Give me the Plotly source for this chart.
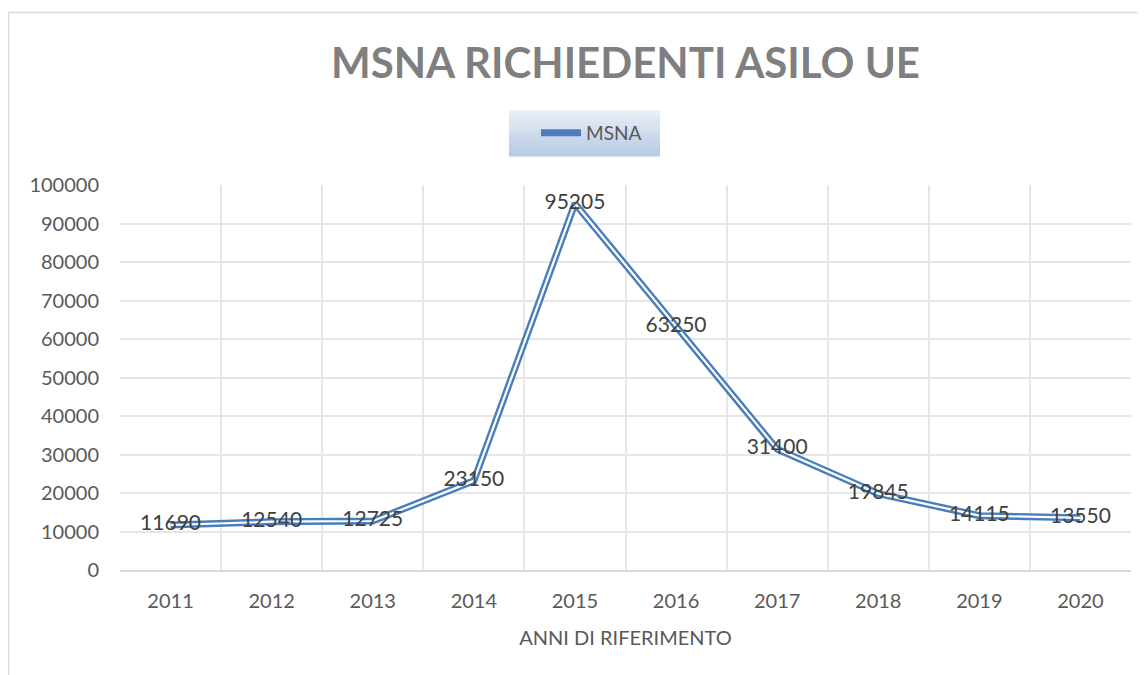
import plotly.graph_objects as go

years = ["2011", "2012", "2013", "2014", "2015", "2016", "2017", "2018", "2019", "2020"]
msna = [11690, 12540, 12725, 23150, 95205, 63250, 31400, 19845, 14115, 13550]
y_ticks = [0, 10000, 20000, 30000, 40000, 50000, 60000, 70000, 80000, 90000, 100000]

FONT = "Lato, Open Sans, sans-serif"
BLUE = "#4A7EBB"

L, R, T, B = 112, 23, 177, 113
W, H = 1146, 675
PW, PH = W - L - R, H - T - B


def px(xf):
    return (xf - L) / PW


def py(yf):
    return (H - B - yf) / PH


fig = go.Figure()
fig.add_trace(go.Scatter(
    x=years, y=msna, mode="lines", name="MSNA",
    line=dict(color=BLUE, width=7), showlegend=True, hoverinfo="skip",
))
fig.add_trace(go.Scatter(
    x=years, y=msna, mode="lines+text", name="MSNA",
    line=dict(color="white", width=2.2), showlegend=False,
    text=[str(v) for v in msna], textposition="middle center",
    textfont=dict(family=FONT, size=21, color="#404040"),
))

# legend background box with a soft vertical gradient
shapes = []
n = 12
top_c = (232, 238, 246)
bot_c = (184, 202, 228)
y_top, y_bot = 102, 148
for i in range(n):
    t = i / (n - 1)
    c = tuple(int(round(top_c[k] + (bot_c[k] - top_c[k]) * t)) for k in range(3))
    ya = y_top + (y_bot - y_top) * i / n
    yb = y_top + (y_bot - y_top) * (i + 1) / n
    shapes.append(dict(
        type="rect", xref="paper", yref="paper",
        x0=px(501), x1=px(652), y0=py(yb + 0.5), y1=py(ya),
        line=dict(width=0), fillcolor="rgb(%d,%d,%d)" % c, layer="below",
    ))
shapes.append(dict(
    type="rect", xref="paper", yref="paper",
    x0=px(0.5), x1=px(1160), y0=py(700), y1=py(4.5),
    line=dict(color="#d9d9d9", width=1.5), fillcolor="rgba(0,0,0,0)",
    layer="below",
))

fig.update_layout(
    width=W, height=H,
    paper_bgcolor="white", plot_bgcolor="white",
    margin=dict(l=L, r=R, t=T, b=B),
    font=dict(family=FONT, color="#595959"),
    title=dict(
        text="<b>MSNA RICHIEDENTI ASILO UE</b>",
        x=0.5, xanchor="center", xref="paper",
        y=1 - 55 / H, yanchor="middle",
        font=dict(family=FONT, size=42, color="#7f7f7f"),
    ),
    legend=dict(
        orientation="h", x=px(528), xanchor="left", y=py(125), yanchor="middle",
        bgcolor="rgba(0,0,0,0)", borderwidth=0,
        font=dict(family=FONT, size=19, color="#595959"),
        itemwidth=40,
    ),
    showlegend=True,
    xaxis=dict(
        type="category", range=[-0.5, 9.5], tickson="boundaries",
        showgrid=True, gridcolor="#e6e6e6", gridwidth=1.5,
        showline=True, linecolor="#d9d9d9", linewidth=1.5,
        ticks="", tickfont=dict(family=FONT, size=20, color="#595959"),
        ticklabelstandoff=12,
        title=dict(text="ANNI DI RIFERIMENTO", standoff=20,
                   font=dict(family=FONT, size=20, color="#595959")),
        automargin=False,
    ),
    yaxis=dict(
        range=[0, 100000], tickvals=y_ticks, ticktext=[str(v) for v in y_ticks],
        showgrid=True, gridcolor="#e6e6e6", gridwidth=1.5,
        zeroline=False, showline=False, ticks="",
        tickfont=dict(family=FONT, size=20, color="#595959"),
        ticklabelstandoff=20, automargin=False,
    ),
    shapes=shapes,
)

fig.write_html("out.html")
